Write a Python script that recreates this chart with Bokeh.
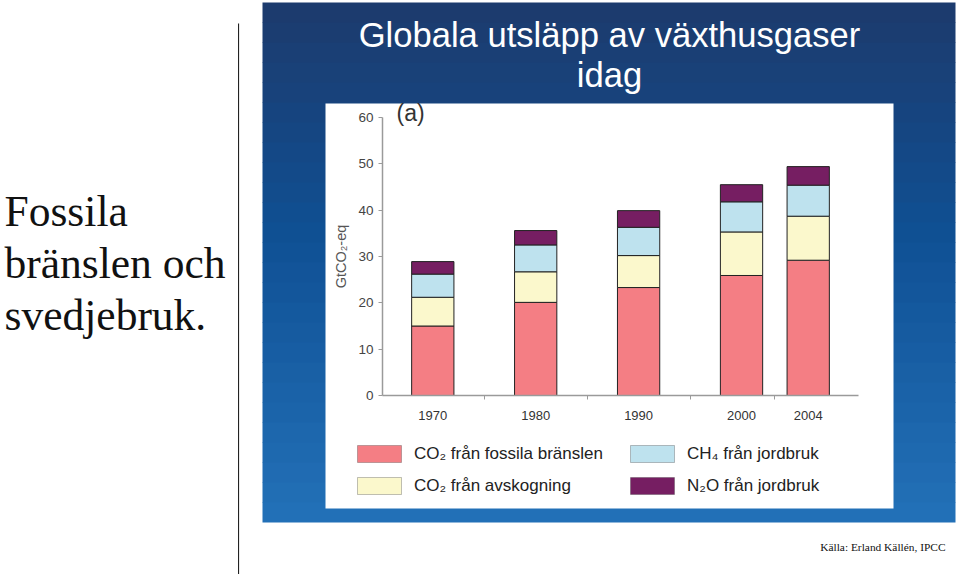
from bokeh.plotting import figure
from bokeh.models import (Range1d, BoxAnnotation, Label, FixedTicker, ColumnDataSource,
                          LinearAxis)
from bokeh.embed import file_html
from bokeh.resources import INLINE

# ---------------- data ----------------
years = ["1970", "1980", "1990", "2000", "2004"]
# 2000 and 2004 share a cluster, so they sit closer together, as in the original
clusters = [0, 1, 2, 3, 3]
co2_fossil = [15.0, 20.1, 23.3, 25.9, 29.2]   # CO2 från fossila bränslen
co2_avsk = [6.2, 6.6, 6.9, 9.4, 9.5]          # CO2 från avskogning
ch4_jord = [5.0, 5.8, 6.1, 6.5, 6.7]          # CH4 från jordbruk
n2o_jord = [2.7, 3.1, 3.6, 3.7, 4.0]          # N2O från jordbruk
y_ticks = [0, 10, 20, 30, 40, 50, 60]
series_keys = ["co2_fossil", "co2_avsk", "ch4_jord", "n2o_jord"]
series_colors = ["#F47E84", "#FBF8CC", "#BEE2EE", "#761E62"]
legend_labels = ["CO₂ från fossila bränslen", "CO₂ från avskogning",
                 "CH₄ från jordbruk", "N₂O från jordbruk"]
title_lines = ["Globala utsläpp av växthusgaser", "idag"]
side_lines = ["Fossila", "bränslen och", "svedjebruk."]
source_text = "Källa: Erland Källén, IPCC"

SANS = "Liberation Sans"
NARROW = "Liberation Sans Narrow, Liberation Sans"
SERIF = "Liberation Serif"

# ---------------- geometry (page pixels) ----------------
W, H = 958, 574
PL, PR, PT, PB = 382, 858, 117, 395     # chart plot area
Y_MAX = 60
GAP = 0.543                             # extra gap between clusters (bar units)
PAD = 0.754

xpos = [i + GAP * c for i, c in enumerate(clusters)]
mids = [(a + b) / 2 for a, b in zip(xpos[:-1], xpos[1:])]
x0s, x1s = xpos[0] - PAD, xpos[-1] + PAD
ux = (PR - PL) / (x1s - x0s)
ky = (PB - PT) / Y_MAX

source = ColumnDataSource(dict(x=xpos, co2_fossil=co2_fossil, co2_avsk=co2_avsk,
                               ch4_jord=ch4_jord, n2o_jord=n2o_jord))

p = figure(width=W, height=H, x_range=Range1d(0, W), y_range=Range1d(H, 0),
           output_backend="svg", toolbar_location=None,
           x_axis_location=None, y_axis_location=None, min_border=0)
p.border_fill_color = "white"
p.background_fill_color = "white"
p.outline_line_color = None
p.grid.visible = False

# data ranges for the chart, aligned to the chart's plot area
p.extra_x_ranges = {"slot": Range1d(x0s - PL / ux, x0s + (W - PL) / ux)}
p.extra_y_ranges = {"gt": Range1d(-(H - PB) / ky, Y_MAX + PT / ky)}

def pxbox(l, r, t, b, fill, line=None, level="underlay", lw=1):
    box = BoxAnnotation(left=l, right=r, top=t, bottom=b, fill_color=fill,
                        fill_alpha=1.0, line_color=line, line_width=lw, level=level)
    p.add_layout(box)

def pxlabel(x, base, text, font, fs, color, align="left"):
    # Label is placed so that its alphabetic baseline lands on `base`
    lab = Label(x=x, y=base - 0.4 * fs, text=text, text_font=font,
                text_font_size=f"{fs}px", text_color=color, text_align=align,
                text_baseline="alphabetic")
    p.add_layout(lab)

# blue gradient panel
stops = [(0.0, (29, 58, 108)), (0.45, (15, 80, 148)), (1.0, (35, 113, 184))]
def grad(t):
    for (t0, c0), (t1, c1) in zip(stops[:-1], stops[1:]):
        if t <= t1:
            f = (t - t0) / (t1 - t0)
            return "#%02x%02x%02x" % tuple(int(round(a + (b - a) * f)) for a, b in zip(c0, c1))
    return "#%02x%02x%02x" % stops[-1][1]

top, bot, n = 2, 522, 26
h = (bot - top) / n
for i in range(n):
    pxbox(262, 955, top + i * h, min(bot, top + (i + 1) * h + 0.6), grad((i + 0.5) / n))
# white chart panel
pxbox(325, 893, 103, 508, "white")
# vertical divider
pxbox(237.5, 238.6, 23, H, "#222222")

# ---------------- bars ----------------
p.vbar_stack(series_keys, x="x", width=0.634, source=source,
             fill_color=series_colors, line_color="#222222", line_width=1,
             x_range_name="slot", y_range_name="gt")

# ---------------- axes ----------------
ya = LinearAxis(y_range_name="gt", fixed_location=PL, bounds=(0, Y_MAX),
                ticker=FixedTicker(ticks=y_ticks))
ya.axis_line_color = "#9a9a9a"
ya.axis_line_width = 1.5
ya.major_tick_line_color = "#9a9a9a"
ya.major_tick_out = 4
ya.major_tick_in = 0
ya.minor_tick_line_color = None
ya.major_label_text_font = NARROW
ya.major_label_text_font_size = "13.5px"
ya.major_label_text_color = "#444444"
ya.major_label_standoff = 5
ya.axis_label = "GtCO₂-eq"
ya.axis_label_text_font = NARROW
ya.axis_label_text_font_size = "14.5px"
ya.axis_label_text_font_style = "normal"
ya.axis_label_text_color = "#555555"
ya.axis_label_standoff = 6
p.add_layout(ya, "left")

xa = LinearAxis(x_range_name="slot", y_range_name="gt", fixed_location=0,
                bounds=(x0s, x1s), ticker=FixedTicker(ticks=xpos, minor_ticks=mids))
xa.major_label_overrides = {x: y for x, y in zip(xpos, years)}
xa.axis_line_color = "#9a9a9a"
xa.axis_line_width = 1.5
xa.major_tick_line_color = None
xa.major_tick_out = 0
xa.major_tick_in = 0
xa.minor_tick_line_color = "#9a9a9a"
xa.minor_tick_out = 4
xa.minor_tick_in = 0
xa.major_label_text_font = NARROW
xa.major_label_text_font_size = "13px"
xa.major_label_text_color = "#333333"
xa.major_label_standoff = 11
p.add_layout(xa, "below")

# ---------------- texts ----------------
pxlabel(609, 48, title_lines[0], SANS, 34.6, "white", align="center")
pxlabel(609, 88, title_lines[1], SANS, 34.6, "white", align="center")
pxlabel(396, 122, "(a)", SANS, 23, "#333333")
for i, t in enumerate(side_lines):
    pxlabel(4, 228 + i * 52, t, SERIF, 43.5, "#111111")
pxlabel(945, 551, source_text, SERIF, 11.4, "#111111", align="right")

# ---------------- legend ----------------
cols = [357, 630]
rows = [445, 477]
positions = [(0, 0), (0, 1), (1, 0), (1, 1)]
for k, (c, r) in enumerate(positions):
    x0, y0 = cols[c], rows[r]
    pxbox(x0, x0 + 44, y0, y0 + 17, series_colors[k], line="#333333",
          level="annotation")
    pxlabel(x0 + 56.5, y0 + 14.5, legend_labels[k], SANS, 17, "#222222")

open("out.html", "w").write(file_html(p, INLINE))
